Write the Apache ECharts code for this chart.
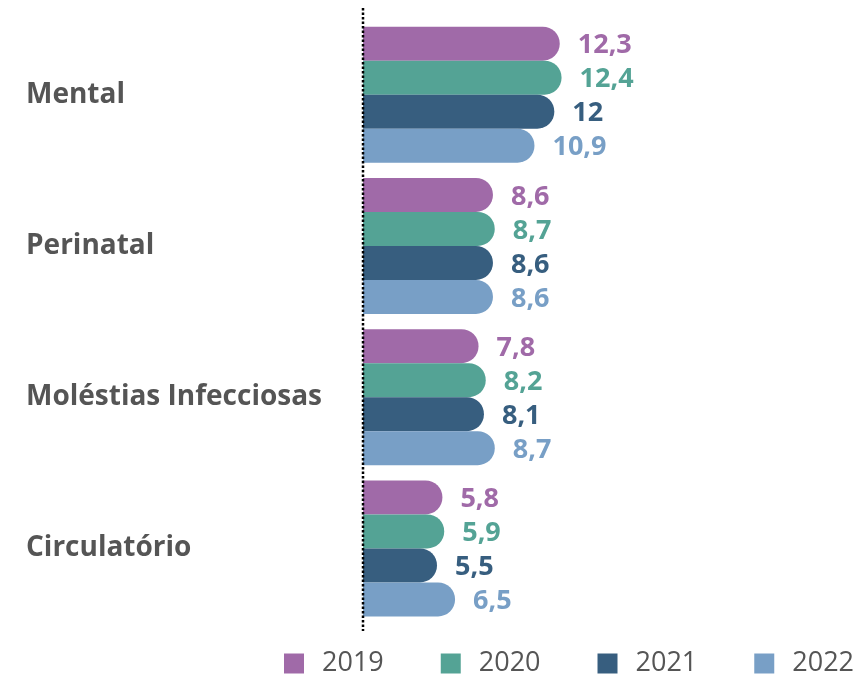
<!DOCTYPE html>
<html>
<head>
<meta charset="utf-8">
<script src="https://cdn.jsdelivr.net/npm/echarts@6/dist/echarts.min.js"></script>
<style>
  html, body { margin: 0; padding: 0; background: #fff; }
  #main { width: 861px; height: 675px; }
</style>
</head>
<body>
<div id="main"></div>
<script>
// categorias (de cima para baixo)
const categories = ['Mental', 'Perinatal', 'Moléstias Infecciosas', 'Circulatório']
const years = ['2019', '2020', '2021', '2022']
const colors = ['#A06AA8', '#54A395', '#375E7F', '#789FC6']

// valores por ano
const v2019 = [12.3, 8.6, 7.8, 5.8]
const v2020 = [12.4, 8.7, 8.2, 5.9]
const v2021 = [12, 8.6, 8.1, 5.5]
const v2022 = [10.9, 8.6, 8.7, 6.5]
const values = [v2019, v2020, v2021, v2022]

const font = '"Open Sans", "Noto Sans", sans-serif'
const myChart = echarts.init(document.getElementById('main'))

myChart.setOption({
    animation: false,
    grid: {
        left: 363,
        right: 72,
        top: 19,
        height: 605
    },
    legend: {
        data: years,
        left: 279,
        top: 645,
        icon: 'rect',
        itemWidth: 20,
        itemHeight: 20,
        itemGap: 57,
        textStyle: {
            fontFamily: font,
            fontSize: 27,
            color: '#555',
            padding: [0, 0, 0, 13]
        }
    },
    xAxis: {
        type: 'value',
        min: 1.4,
        max: 25,
        show: false
    },
    yAxis: {
        type: 'category',
        data: categories,
        inverse: true,
        axisLine: { show: false },
        axisTick: { show: false },
        axisLabel: {
            align: 'left',
            margin: 337,
            padding: [8, 0, 0, 0],
            fontFamily: font,
            fontWeight: 'bold',
            fontSize: 28,
            color: '#555'
        }
    },
    // linha pontilhada do eixo
    graphic: [{
        type: 'line',
        shape: { x1: 363, y1: 8, x2: 363, y2: 631 },
        style: { stroke: '#000', lineWidth: 2.5, lineDash: [2.5, 2] },
        z: 10
    }],
    series: years.map((y, i) => ({
        name: y,
        type: 'bar',
        data: values[i],
        barWidth: 34,
        barGap: '0%',
        itemStyle: {
            color: colors[i],
            borderRadius: [0, 17, 17, 0]
        },
        label: {
            show: true,
            position: 'right',
            distance: 18,
            offset: [0, 2],
            fontFamily: font,
            fontWeight: 'bold',
            fontSize: 27,
            color: colors[i],
            formatter: p => String(p.value).replace('.', ',')
        }
    }))
})
</script>
</body>
</html>
